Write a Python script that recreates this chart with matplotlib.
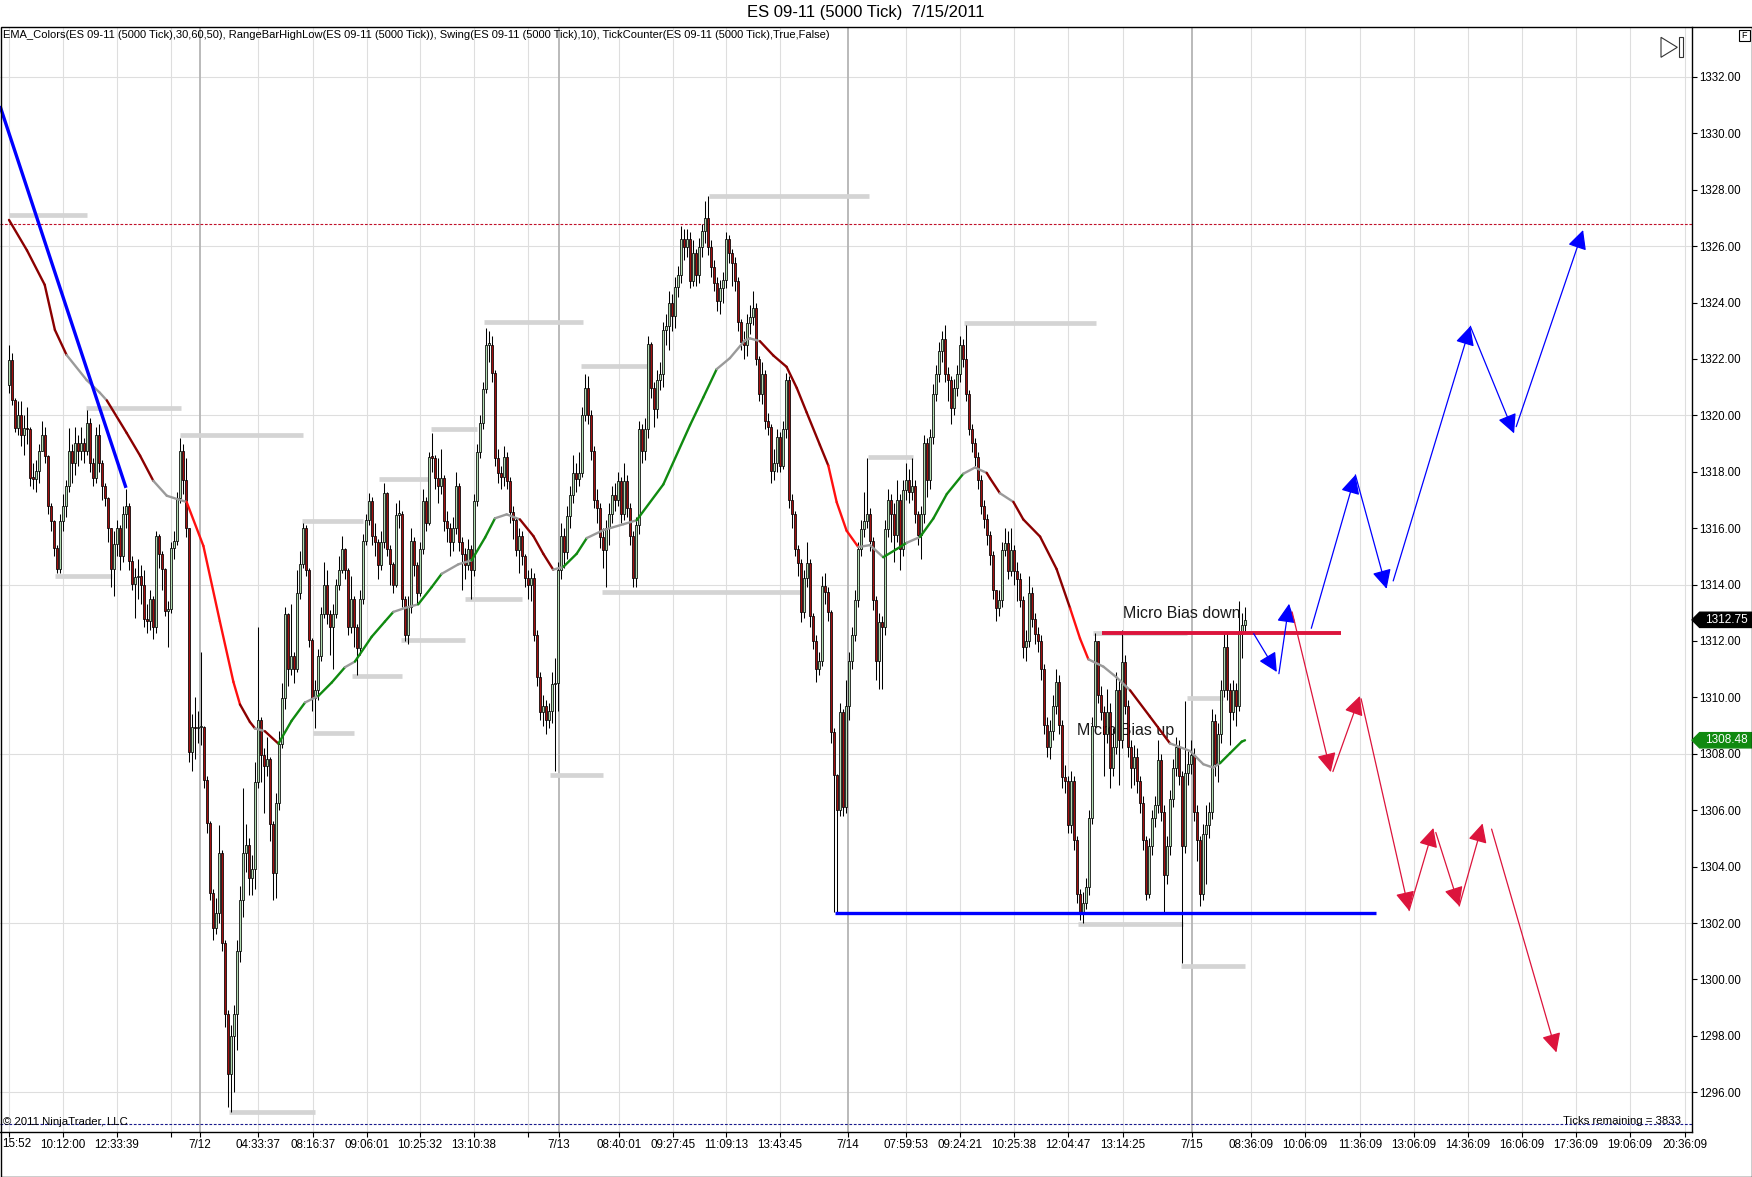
import numpy as np
import matplotlib
matplotlib.use("Agg")
import matplotlib.pyplot as plt
from matplotlib.collections import LineCollection
from matplotlib.patches import Polygon, Rectangle

plt.rcParams['font.family'] = ['Liberation Sans', 'DejaVu Sans']

# ---- bar data (5000 tick bars, open = previous close) ----
first_open = 1321.07

closes = [
    # 7/11 .. 7/12 morning
    1321.96, 1320.53, 1319.55, 1320.0, 1319.29, 1319.55, 1319.5, 1317.77, 1317.75, 1318.04,
    1318.75, 1319.29, 1318.57, 1316.79, 1316.26, 1315.28, 1314.56, 1316.26, 1316.79, 1317.5,
    1318.75, 1318.3, 1319.02, 1318.75, 1319.02, 1318.75, 1319.73, 1318.3, 1317.77, 1319.29,
    1318.3, 1317.5, 1317.06, 1315.99, 1314.56, 1315.45, 1315.99, 1315.0, 1316.52, 1316.79,
    1314.83, 1314.03, 1314.26, 1314.3, 1314.0, 1312.78, 1312.7, 1313.5, 1312.51, 1315.72,
    1315.1, 1314.56, 1313.05, 1313.14, 1315.28, 1315.55, 1317.06, 1318.75, 1317.7, 1315.99,
    1308.06, 1308.95, 1308.9, 1308.95, 1308.95, 1307.08, 1305.56, 1303.07, 1301.82, 1302.35,
    1304.49, 1301.28, 1298.79, 1296.65, 1297.99, 1298.79, 1301.02, 1302.8, 1304.49, 1304.76,
    1303.6,
    1303.9, 1307.0, 1309.2, 1307.96, 1307.55, 1307.8, 1305.52, 1303.76, 1306.27, 1308.36,
    1309.99, 1312.96, 1311.0, 1311.47, 1311.0, 1313.71, 1314.72, 1316.0, 1314.52, 1312.02,
    1309.99, 1310.26, 1311.47, 1312.96, 1313.98, 1312.96, 1312.49, 1312.96, 1313.98, 1314.52,
    1315.26, 1314.52, 1312.49, 1313.5, 1312.49, 1311.75, 1313.5, 1315.53, 1316.28, 1316.96,
    1315.74, 1315.5, 1314.7, 1315.5, 1317.23, 1315.26, 1314.72, 1313.98, 1316.48, 1316.5,
    1313.5, 1312.2, 1313.2, 1315.53, 1314.7, 1313.71, 1315.26, 1316.96, 1316.2, 1318.51,
    1318.5, 1317.77, 1317.5, 1317.77, 1316.24, 1316.0, 1315.5, 1316.0, 1317.5, 1315.5,
    1315.1, 1314.7, 1315.26, 1314.52, 1316.96, 1318.71, 1319.73, 1320.95, 1322.5, 1322.5,
    1321.5, 1318.5,
    # 7/13
    1317.97, 1317.8, 1318.53, 1317.69, 1316.56, 1316.28, 1315.23, 1315.72, 1315.0, 1314.25,
    1314.0, 1314.25, 1312.22, 1310.74, 1309.48, 1309.69, 1309.2, 1309.5, 1310.46, 1310.5,
    1314.53, 1315.72, 1315.16, 1316.42, 1317.19, 1317.97, 1317.76, 1317.97, 1320.0, 1320.98,
    1320.0, 1318.74, 1317.0, 1316.7, 1315.7, 1315.23, 1316.0, 1316.5, 1317.19, 1317.0,
    1317.69, 1316.5, 1317.69, 1316.7, 1315.72, 1314.25, 1316.1, 1319.51, 1318.74, 1319.51,
    1322.52, 1320.98, 1320.21, 1321.26, 1321.47, 1323.02, 1323.16, 1324.0, 1323.51, 1324.56,
    1324.98, 1326.24, 1325.96, 1326.24, 1324.77, 1325.75, 1324.98, 1325.96, 1326.52, 1327.01,
    1325.96, 1325.26, 1324.7, 1324.07, 1324.5, 1324.8, 1326.24, 1325.75, 1325.4, 1324.77,
    1323.3,
    # 7/13 afternoon .. 7/14
    1322.6, 1322.5, 1323.28, 1323.5, 1323.8, 1322.0, 1320.75, 1321.47, 1319.8, 1319.6,
    1318.01, 1318.3, 1319.23, 1318.22, 1319.5, 1321.26, 1316.99, 1316.49, 1315.26, 1314.75,
    1313.02, 1314.25, 1314.75, 1312.88, 1312.01, 1311.0, 1311.29, 1313.96, 1313.74, 1313.02,
    1308.76, 1307.24, 1306.01, 1309.48, 1306.1, 1309.7, 1311.29, 1312.22, 1313.45, 1315.26,
    1315.98, 1316.27, 1316.49, 1315.55, 1313.45, 1311.29, 1312.66, 1312.51, 1315.98, 1316.99,
    1316.49, 1315.77, 1316.99, 1315.26, 1317.36, 1317.72, 1317.3, 1317.5, 1316.49, 1315.77,
    1316.49, 1319.02, 1317.72, 1319.23, 1320.75, 1321.47, 1322.27, 1322.7, 1321.47, 1321.26,
    1320.25, 1320.97, 1321.47, 1322.49, 1322.0, 1320.75, 1319.52, 1319.02, 1318.51, 1317.72,
    1316.78, 1316.34, 1315.77, 1315.04, 1313.82,
    # 7/14 afternoon .. 7/15
    1313.16, 1313.47, 1315.24, 1315.47, 1314.47, 1315.24, 1314.47, 1314.2, 1313.47, 1311.78,
    1312.0, 1313.7, 1312.78, 1312.24, 1312.0, 1311.01, 1309.02, 1308.25, 1308.8, 1309.71,
    1310.55, 1309.02, 1307.17, 1307.02, 1305.48, 1307.02, 1304.95, 1303.03, 1302.33, 1302.72,
    1303.26, 1305.71, 1309.0, 1312.01, 1310.1, 1309.48, 1308.71, 1309.48, 1307.48, 1308.25,
    1310.25, 1308.48, 1311.24, 1309.71, 1308.25, 1307.48, 1307.9, 1307.02, 1306.25, 1304.95,
    1303.03, 1304.72, 1305.71, 1306.17, 1307.79, 1305.95, 1303.72, 1304.72, 1306.4, 1307.48,
    1308.25, 1307.2, 1304.72, 1307.32, 1307.63, 1307.94, 1305.95, 1304.95, 1303.03, 1305.17,
    1305.48, 1305.95, 1309.17, 1307.63, 1308.71, 1310.25, 1311.78, 1310.25, 1309.48, 1310.25,
    1309.71, 1312.24, 1312.55, 1312.75,
]

highs = [
    1322.5, 1322.2, 1320.6, 1320.5, 1320.5, 1320.0, 1320.3, 1319.6, 1318.3, 1318.4,
    1319.0, 1319.8, 1319.6, 1318.6, 1316.9, 1316.3, 1315.4, 1316.5, 1317.2, 1317.7,
    1319.55, 1319.0, 1319.6, 1319.3, 1319.6, 1319.2, 1320.2, 1319.9, 1318.5, 1319.6,
    1319.7, 1318.4, 1317.6, 1317.1, 1316.0, 1315.9, 1316.3, 1316.1, 1316.8, 1317.4,
    1316.9, 1315.0, 1314.6, 1314.9, 1314.7, 1314.5, 1313.3, 1313.8, 1313.6, 1315.9,
    1315.8, 1315.2, 1314.6, 1313.4, 1315.5, 1315.9, 1317.3, 1319.2, 1319.0, 1318.5,
    1316.0, 1309.4, 1310.0, 1309.5, 1311.6, 1309.0, 1307.2, 1305.6, 1303.2, 1302.9,
    1305.47, 1304.6, 1301.4, 1298.9, 1298.4, 1299.1, 1301.4, 1303.3, 1306.8, 1305.5,
    1305.0,
    1304.4, 1307.7, 1312.5, 1309.3, 1308.2, 1308.6, 1307.9, 1305.6, 1306.6, 1308.8,
    1310.5, 1313.2, 1313.0, 1313.3, 1311.6, 1314.5, 1315.2, 1316.2, 1316.1, 1314.6,
    1312.1, 1310.6, 1311.7, 1313.2, 1314.8, 1314.5, 1313.1, 1313.3, 1314.2, 1315.0,
    1315.74, 1315.3, 1314.6, 1314.3, 1313.6, 1312.6, 1313.8, 1315.8, 1316.5, 1317.23,
    1317.1, 1316.2, 1315.6, 1315.9, 1317.6, 1317.3, 1315.4, 1314.8, 1316.9, 1317.0,
    1316.6, 1313.6, 1313.6, 1316.0, 1315.7, 1314.8, 1315.5, 1317.4, 1317.1, 1318.7,
    1319.39, 1318.6, 1318.5, 1318.8, 1317.9, 1316.6, 1316.2, 1316.4, 1318.0, 1317.6,
    1315.7, 1315.3, 1315.6, 1315.4, 1317.2, 1319.0, 1320.0, 1321.2, 1323.11, 1323.0,
    1322.8, 1321.6,
    1318.8, 1318.2, 1318.9, 1318.7, 1317.8, 1316.8, 1316.4, 1316.0, 1315.9, 1315.1,
    1314.5, 1314.6, 1314.4, 1312.4, 1310.9, 1310.1, 1309.9, 1309.8, 1310.9, 1311.4,
    1314.8, 1316.2, 1316.0, 1316.8, 1317.5, 1318.6, 1318.3, 1318.7, 1320.3, 1321.47,
    1321.4, 1320.2, 1318.9, 1317.4, 1316.9, 1316.0, 1316.3, 1316.9, 1317.5, 1317.6,
    1318.0, 1317.8, 1318.3, 1317.9, 1316.9, 1315.9, 1316.4, 1319.8, 1319.7, 1319.9,
    1322.8, 1322.6, 1321.2, 1321.6, 1321.9, 1323.3, 1323.6, 1324.4, 1324.3, 1324.9,
    1325.3, 1326.73, 1326.6, 1326.6, 1326.5, 1326.2, 1325.9, 1326.3, 1326.8, 1327.6,
    1327.78, 1326.2, 1325.5, 1324.9, 1324.8, 1325.1, 1326.5, 1326.4, 1325.9, 1325.6,
    1324.9,
    1323.4, 1323.0, 1323.6, 1323.9, 1324.4, 1324.0, 1322.1, 1321.9, 1321.6, 1320.1,
    1319.7, 1318.8, 1319.5, 1319.4, 1319.8, 1321.5, 1321.4, 1317.2, 1316.6, 1315.4,
    1314.9, 1314.5, 1315.5, 1314.9, 1313.0, 1312.2, 1311.6, 1314.3, 1314.4, 1313.9,
    1313.1, 1308.9, 1307.3, 1309.8, 1309.6, 1310.6, 1311.6, 1312.5, 1313.8, 1315.5,
    1316.3, 1317.3, 1318.5, 1316.7, 1315.7, 1313.6, 1313.0, 1312.9, 1316.3, 1317.4,
    1317.2, 1316.9, 1317.7, 1317.2, 1317.7, 1318.3, 1318.1, 1318.5, 1317.7, 1316.6,
    1316.8, 1319.3, 1319.2, 1319.5, 1321.1, 1321.8, 1322.6, 1323.0, 1323.2, 1321.7,
    1321.4, 1321.3, 1321.8, 1322.8, 1322.7, 1323.2, 1320.9, 1319.7, 1319.2, 1318.7,
    1317.9, 1317.0, 1316.5, 1315.9, 1315.2,
    1313.8, 1313.8, 1315.5, 1316.0, 1315.9, 1316.0, 1315.4, 1314.8, 1314.4, 1313.6,
    1312.4, 1314.3, 1313.9, 1313.0, 1312.5, 1312.2, 1311.2, 1309.3, 1309.2, 1310.1,
    1311.0, 1310.8, 1309.2, 1307.6, 1307.2, 1307.4, 1307.2, 1305.1, 1303.2, 1303.1,
    1303.6, 1306.0, 1309.3, 1312.3, 1312.0, 1310.4, 1309.7, 1310.3, 1309.8, 1308.9,
    1310.9, 1310.6, 1312.4, 1311.5, 1309.9, 1308.5, 1308.3, 1308.2, 1307.2, 1306.5,
    1305.1, 1305.0, 1306.0, 1306.5, 1308.5, 1308.0, 1306.2, 1305.1, 1306.7, 1307.8,
    1308.6, 1308.5, 1307.4, 1309.86, 1308.1, 1308.5, 1308.2, 1306.2, 1305.1, 1305.5,
    1306.2, 1306.3, 1309.6, 1309.4, 1309.1, 1310.6, 1312.3, 1312.3, 1310.5, 1310.6,
    1310.5, 1313.4, 1313.0, 1313.2,
]

lows = [
    1320.8, 1320.35, 1319.4, 1319.3, 1318.9, 1318.6, 1319.0, 1317.5, 1317.4, 1317.3,
    1317.6, 1318.8, 1318.3, 1316.5, 1315.9, 1315.0, 1314.4, 1314.4, 1315.9, 1316.4,
    1317.3, 1317.6, 1317.9, 1318.2, 1318.4, 1318.3, 1318.6, 1318.0, 1317.5, 1317.6,
    1318.0, 1317.0, 1316.8, 1315.5, 1313.9, 1313.6, 1315.0, 1314.5, 1314.8, 1316.0,
    1314.5, 1313.8, 1312.8, 1313.5, 1313.3, 1312.5, 1312.3, 1312.4, 1312.07, 1312.3,
    1314.6, 1313.8, 1312.9, 1311.8, 1313.0, 1314.9, 1315.4, 1316.9, 1317.2, 1315.7,
    1307.7, 1307.4, 1307.8, 1308.4, 1308.3, 1306.8, 1305.2, 1302.8, 1301.4, 1301.6,
    1302.0, 1301.0, 1298.3, 1295.49, 1295.3, 1296.0, 1297.5, 1300.6, 1302.2, 1303.8,
    1303.0,
    1303.0, 1303.2, 1306.8, 1307.0, 1305.9, 1307.2, 1304.9, 1302.8, 1302.9, 1306.0,
    1308.2, 1309.6, 1310.4, 1310.8, 1310.5, 1310.9, 1313.5, 1314.6, 1314.3, 1311.8,
    1309.5, 1308.9, 1309.9, 1311.3, 1312.8, 1312.6, 1311.5, 1311.0, 1312.8, 1313.8,
    1314.4, 1314.2, 1312.2, 1312.3, 1311.8, 1310.8, 1311.5, 1313.3, 1315.4, 1316.1,
    1315.4, 1315.0, 1314.2, 1314.5, 1315.3, 1315.0, 1314.0, 1313.7, 1313.9, 1316.0,
    1313.2, 1312.0, 1311.9, 1313.0, 1314.3, 1313.3, 1313.6, 1315.1, 1315.9, 1316.1,
    1318.0, 1317.4, 1316.9, 1317.2, 1315.9, 1315.5, 1315.0, 1315.2, 1315.8, 1315.2,
    1313.8, 1314.2, 1314.5, 1313.5, 1314.3, 1316.8, 1318.5, 1319.5, 1320.8, 1321.9,
    1321.2, 1318.2,
    1317.6, 1317.4, 1317.5, 1317.4, 1316.2, 1315.6, 1315.0, 1314.4, 1314.7, 1313.9,
    1313.5, 1313.4, 1312.0, 1310.4, 1309.2, 1309.0, 1308.71, 1308.9, 1309.1, 1307.38,
    1309.5, 1314.2, 1314.6, 1314.9, 1316.0, 1316.9, 1317.3, 1317.5, 1317.8, 1319.8,
    1319.7, 1318.4, 1316.7, 1316.2, 1315.3, 1314.6, 1313.9, 1315.4, 1316.2, 1316.6,
    1316.8, 1316.2, 1316.3, 1316.4, 1315.4, 1313.9, 1313.9, 1315.8, 1318.3, 1318.4,
    1319.2, 1320.6, 1319.6, 1319.9, 1320.9, 1321.0, 1322.5, 1322.3, 1323.0, 1323.1,
    1324.2, 1324.7, 1325.5, 1325.6, 1324.5, 1324.6, 1324.6, 1324.7, 1325.6, 1326.1,
    1325.7, 1324.9, 1324.4, 1323.7, 1323.6, 1324.0, 1324.5, 1325.4, 1324.6, 1324.4,
    1323.0,
    1322.3, 1322.0, 1322.1, 1322.9, 1323.2, 1321.8, 1320.5, 1320.4, 1319.5, 1319.3,
    1317.6, 1317.7, 1318.0, 1318.0, 1318.1, 1319.2, 1316.7, 1316.0, 1315.0, 1314.3,
    1312.66, 1312.8, 1313.9, 1312.5, 1311.7, 1310.56, 1310.8, 1311.1, 1313.3, 1312.7,
    1308.4, 1302.4, 1302.4, 1305.8, 1305.8, 1305.9, 1309.2, 1311.0, 1312.0, 1313.2,
    1315.0, 1315.7, 1316.0, 1315.2, 1313.1, 1310.6, 1310.3, 1310.3, 1312.2, 1315.7,
    1315.5, 1314.8, 1315.5, 1314.5, 1315.0, 1317.0, 1316.9, 1317.0, 1316.2, 1315.4,
    1314.9, 1316.2, 1317.1, 1317.4, 1319.0, 1320.5, 1321.2, 1321.9, 1321.2, 1320.5,
    1319.7, 1320.0, 1320.7, 1321.2, 1321.7, 1320.5, 1319.3, 1318.7, 1318.2, 1317.4,
    1316.5, 1316.0, 1315.4, 1314.7, 1313.5,
    1312.7, 1312.9, 1313.2, 1315.0, 1314.2, 1314.3, 1314.0, 1313.4, 1313.2, 1311.4,
    1311.3, 1311.8, 1312.5, 1311.9, 1311.6, 1310.6, 1308.7, 1307.9, 1307.8, 1308.5,
    1309.4, 1308.7, 1306.8, 1306.6, 1305.2, 1305.2, 1304.6, 1302.7, 1302.1, 1302.0,
    1302.5, 1303.0, 1305.5, 1308.8, 1309.8, 1309.2, 1307.2, 1308.4, 1306.8, 1307.2,
    1308.0, 1306.9, 1308.2, 1309.4, 1307.9, 1306.8, 1306.9, 1306.6, 1305.9, 1304.6,
    1302.8, 1302.9, 1304.4, 1305.4, 1305.9, 1305.6, 1302.35, 1303.4, 1304.4, 1306.1,
    1307.2, 1306.9, 1300.57, 1304.5, 1306.9, 1307.3, 1305.6, 1304.2, 1302.6, 1302.8,
    1303.4, 1305.0, 1305.7, 1307.2, 1307.0, 1308.4, 1310.0, 1309.9, 1308.3, 1309.2,
    1309.0, 1309.5, 1311.4, 1312.3,
]

# ---- EMA_Colors line (bar position, value, colour code of following segment) ----
ema_x = [0, 6, 11.9, 15.3, 19.2, 25.9, 30.3, 32.6, 39.2, 43.7, 48.1,
         52.6, 57, 59.2, 64.8, 70.3, 74.8, 77, 80.3, 82, 85.3,
         89.8, 94.2, 98.7, 103.1, 107.6, 112, 115.3, 120.9, 125.3, 128.1,
         132, 136.4, 140.9, 144.2, 149.8, 154.2, 158.7, 162, 165.9, 170.3,
         174.8, 178.1, 181.4, 184.8, 189.2, 192.6, 198.1, 204.8, 209.2, 218.1,
         227, 231.4, 235.9, 240.3, 245.3, 247, 250.3, 254.8, 259.2, 262.6,
         265.9, 270.3, 273.1, 275.9, 279.2, 283.1, 287, 291.4, 295.9, 299.2,
         303.7, 308.1, 312.6, 318.1, 322, 325.9, 327, 330.3, 334.8, 338.1,
         343.7, 349.2, 353.7, 357, 359.8, 364.8, 369.2, 373.7, 380.3, 387,
         393.7, 398.1, 401.4, 403.7, 407, 410.9, 412]
ema_y = [1326.93, 1325.85, 1324.63, 1323.03, 1322.14, 1321.25, 1320.8, 1320.53, 1319.38, 1318.57, 1317.68,
         1317.15, 1317.0, 1316.93, 1315.37, 1312.69, 1310.55, 1309.75, 1309.13, 1308.9, 1308.8,
         1308.36, 1309.17, 1309.82, 1310.05, 1310.53, 1311.07, 1311.27, 1312.15, 1312.69, 1313.03,
         1313.17, 1313.3, 1313.91, 1314.38, 1314.72, 1314.86, 1315.67, 1316.35, 1316.49, 1316.31,
         1315.72, 1315.09, 1314.53, 1314.63, 1315.09, 1315.65, 1315.93, 1316.14, 1316.28, 1317.55,
         1319.65, 1320.63, 1321.64, 1322.03, 1322.66, 1322.73, 1322.63, 1322.12, 1321.72, 1320.97,
         1320.1, 1318.95, 1318.22, 1316.92, 1315.91, 1315.33, 1315.4, 1314.97, 1315.26, 1315.48,
         1315.69, 1316.34, 1317.21, 1317.93, 1318.15, 1317.96, 1317.77, 1317.24, 1316.93, 1316.31,
         1315.7, 1314.55, 1313.16, 1312.09, 1311.35, 1311.09, 1310.71, 1310.25, 1309.32, 1308.37,
         1308.1, 1307.63, 1307.51, 1307.67, 1308.02, 1308.43, 1308.48]
ema_codes = ("ddddgggdddgggrrrrddgdGGgGGgGGGggGGggGGggdddgGGgggGGGGgggg"
             "ddddddrrrggGGgGGGggddgddddrrgggddggggGGG")

# ---- RangeBarHighLow swing marks: (first bar, last bar, price) ----
swing_marks = [
    (0, 26, 1327.09), (15.3, 34.3, 1314.3), (25.7, 57.3, 1320.27), (57, 98, 1319.29),
    (73.3, 102, 1295.31), (97.7, 118, 1316.25), (101.3, 115, 1308.74), (114.3, 131, 1310.77),
    (123.3, 139.7, 1317.74), (130.7, 152, 1312.02), (140.7, 156, 1319.51), (152, 171, 1313.5),
    (158.3, 191.3, 1323.3), (180.3, 198, 1307.24), (190.7, 212.7, 1321.75), (197.7, 263.7, 1313.74),
    (233.3, 286.7, 1327.78), (286.3, 301.3, 1318.54), (318.3, 362.3, 1323.27), (356.3, 391.3, 1301.95),
    (361.3, 392.7, 1312.27), (392.7, 404.7, 1309.98), (390.7, 412, 1300.49),
]

# ---- drawn objects ----
trend_line = [(-3, 1330.97), (39, 1317.43)]
bias_down_level, bias_down_span = 1312.3, (364.2, 444)
support_level, support_span = 1302.34, (275.3, 455.8)
prior_high_dotted = 1326.77
prior_low_dotted = 1294.86

blue_arrows = [(414.9, 1312.26, 422.6, 1310.90), (423.3, 1310.84, 426.7, 1313.32),
               (434.1, 1312.45, 448.8, 1317.89), (448.8, 1317.89, 459.2, 1313.85),
               (461.4, 1314.13, 487.1, 1323.16), (487.1, 1323.16, 501.7, 1319.36),
               (502.4, 1319.60, 524.7, 1326.57)]
red_arrows = [(427.7, 1313.03, 440.6, 1307.35), (441.3, 1307.37, 450.3, 1310.05),
              (450.7, 1309.95, 466.7, 1302.44), (466.7, 1302.44, 474.8, 1305.37),
              (475.6, 1305.21, 483.4, 1302.60), (483.4, 1302.60, 491.2, 1305.53),
              (494.2, 1305.33, 515.8, 1297.41)]

# ---- axis labels ----
xtick_pos = [0, 18, 36, 54, 63.5, 83, 101.3, 119.3, 137, 155, 173, 183.3, 203.3, 221.3, 239,
             257, 279.5, 299, 317, 335, 353, 371.3, 394.3, 414, 432, 450.3, 468.3, 486.3,
             504.3, 522.3, 540.3, 558.7]
xtick_lab = ['', '10:12:00', '12:33:39', '', '7/12', '04:33:37', '08:16:37', '09:06:01',
             '10:25:32', '13:10:38', '', '7/13', '08:40:01', '09:27:45', '11:09:13', '13:43:45',
             '7/14', '07:59:53', '09:24:21', '10:25:38', '12:04:47', '13:14:25', '7/15',
             '08:36:09', '10:06:09', '11:36:09', '13:06:09', '14:36:09', '16:06:09', '17:36:09',
             '19:06:09', '20:36:09']
first_tick_text = '15:52'   # first time label, only its tail is visible at the left edge
ytick_pos = list(range(1296, 1333, 2))
hgrid_pos = [1296, 1302, 1308, 1314, 1320, 1326, 1332]
last_price = 1312.75
last_ema = 1308.48

# ---- figure ----
W, H = 1752, 1177
def fx(p):
    return p / W
def fy(p):
    return 1 - p / H

fig = plt.figure(figsize=(W / 100, H / 100), dpi=100)
ax = fig.add_axes([0, fy(1132), fx(1692), (1132 - 27) / H])
ax.set_xlim(-3, 561)
ax.set_ylim(1294.59, 1333.77)

# grid
for p in hgrid_pos:
    ax.axhline(p, color='#dedede', lw=0.8, zorder=0.5)
for p, lab in zip(xtick_pos, xtick_lab):
    if '/' in lab:
        ax.axvline(p, color='#b4b4b4', lw=1.3, zorder=0.6)
    else:
        ax.axvline(p, color='#dedede', lw=0.8, zorder=0.5)

ax.axhline(prior_high_dotted, color='#c0102a', lw=0.8, ls=(0, (2.5, 1.5)), zorder=1)
ax.axhline(prior_low_dotted, color='#1a1a8c', lw=0.8, ls=(0, (2.5, 1.5)), zorder=1)

# swing marks
for x0, x1, p in swing_marks:
    ax.plot([x0, x1], [p, p], color='#d4d4d4', lw=3.4, solid_capstyle='butt', zorder=2)

# candles
c = np.array(closes)
o = np.array([first_open] + closes[:-1])
hi = np.maximum(np.array(highs), np.maximum(o, c))
lo = np.minimum(np.array(lows), np.minimum(o, c))
xb = np.arange(len(c))
up = c >= o
ax.vlines(xb, lo, hi, color='black', lw=0.75, zorder=3)
body_bot = np.minimum(o, c)
body_h = np.maximum(np.abs(c - o), 0.05)
ax.bar(xb, body_h, bottom=body_bot, width=0.86,
       color=np.where(up, '#b2dcb2', '#a00e0e'), edgecolor='black', linewidth=0.55, zorder=4)

# EMA line with colour states
ema_col = {'d': '#8b0000', 'r': '#ff1010', 'g': '#9a9a9a', 'G': '#108a10'}
segs = [[(ema_x[i], ema_y[i]), (ema_x[i + 1], ema_y[i + 1])] for i in range(len(ema_x) - 1)]
ax.add_collection(LineCollection(segs, colors=[ema_col[k] for k in ema_codes],
                                 linewidths=1.7, capstyle='round', joinstyle='round', zorder=5))

# drawing objects
ax.plot(*zip(*trend_line), color='#0000ff', lw=2.4, zorder=6, solid_capstyle='butt')
ax.hlines(bias_down_level, *bias_down_span, color='#dc143c', lw=2.8, zorder=6)
ax.hlines(support_level, *support_span, color='#0000ff', lw=2.4, zorder=6)

ax.text(371.3, 1312.96, 'Micro Bias down', fontsize=11.5, color='#1a1a1a',
        ha='left', va='center', zorder=7)
ax.text(356, 1308.82, 'Micro Bias up', fontsize=11.5, color='#1a1a1a',
        ha='left', va='center', zorder=3.5)

for arrows, col in ((blue_arrows, '#0000ff'), (red_arrows, '#dc143c')):
    for x0, y0, x1, y1 in arrows:
        ax.annotate('', xy=(x1, y1), xytext=(x0, y0),
                    arrowprops=dict(arrowstyle='-|>,head_length=0.9,head_width=0.45',
                                    mutation_scale=13, color=col, lw=0.9,
                                    shrinkA=0, shrinkB=0), zorder=8)

# axes / ticks
for side in ('top', 'left'):
    ax.spines[side].set_visible(False)
for side in ('right', 'bottom'):
    ax.spines[side].set_color('black')
    ax.spines[side].set_linewidth(1.0)
ax.yaxis.tick_right()
ax.set_yticks(ytick_pos)
ax.set_yticklabels(['%.2f' % v for v in ytick_pos])
ax.set_xticks(xtick_pos)
ax.set_xticklabels(xtick_lab)
ax.tick_params(axis='y', direction='out', length=3.6, width=0.8, pad=1.5, labelsize=8.3)
ax.tick_params(axis='x', direction='out', length=3.6, width=0.8, pad=1.5, labelsize=8.4)
fig.text(fx(2), fy(1144), first_tick_text, ha='left', va='center', fontsize=8.4)

# price tags on the axis
ty = ax.get_yaxis_transform()
for val, col in ((last_price, 'black'), (last_ema, '#108a10')):
    hh = 0.27
    ax.add_patch(Polygon([(1.0, val), (1.0045, val + hh), (1.0355, val + hh),
                          (1.0355, val - hh), (1.0045, val - hh)],
                         closed=True, facecolor=col, edgecolor=col, transform=ty,
                         clip_on=False, zorder=10))
    ax.text(1.0205, val, '%.2f' % val, transform=ty, color='white', fontsize=8.5,
            ha='center', va='center', clip_on=False, zorder=11)

# frame, title and captions
fig.add_artist(Rectangle((fx(0.5), fy(1176.5)), fx(1751), (1176.5 - 27) / H,
                         fill=False, edgecolor='black', lw=1.0, transform=fig.transFigure))
fig.text(fx(866), fy(13), 'ES 09-11 (5000 Tick)  7/15/2011', ha='center', va='center',
         fontsize=12)
fig.text(fx(3), fy(35), 'EMA_Colors(ES 09-11 (5000 Tick),30,60,50), RangeBarHighLow(ES 09-11 '
         '(5000 Tick)), Swing(ES 09-11 (5000 Tick),10), TickCounter(ES 09-11 (5000 Tick),'
         'True,False)', ha='left', va='center', fontsize=8)
fig.text(fx(3), fy(1122), '\u00a9 2011 NinjaTrader, LLC', ha='left', va='center', fontsize=8.2)
fig.text(fx(1681), fy(1121), 'Ticks remaining = 3833', ha='right', va='center', fontsize=8.2)

fig.add_artist(Rectangle((fx(1739), fy(41)), fx(11), 11 / H, fill=False,
                         edgecolor='black', lw=0.8, transform=fig.transFigure))
fig.text(fx(1744.5), fy(35.5), 'F', ha='center', va='center', fontsize=6.5)
fig.add_artist(Polygon([(fx(1661), fy(37.3)), (fx(1661), fy(57.3)), (fx(1677.3), fy(47.3))],
                       closed=True, fill=False, edgecolor='#333333', lw=0.8,
                       transform=fig.transFigure))
fig.add_artist(Rectangle((fx(1678.5), fy(57.3)), fx(4.2), 20 / H, fill=False,
                         edgecolor='#333333', lw=0.8, transform=fig.transFigure))

fig.savefig('out.png', dpi=100, facecolor='white')
